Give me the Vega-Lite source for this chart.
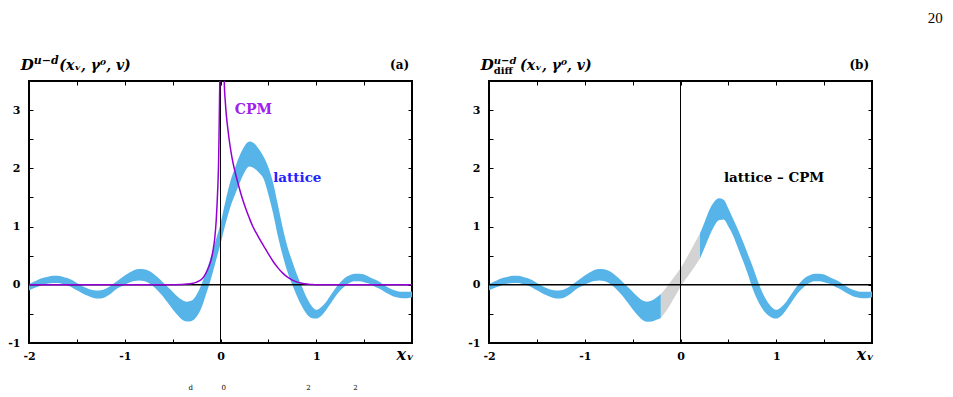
{
"$schema": "https://vega.github.io/schema/vega-lite/v6.json",
"background": "white",
"padding": {"left": 6, "top": 9, "right": 0, "bottom": 0},
"autosize": {"type": "pad"},
"spacing": 77,
"bounds": "flush",
"config": {
  "view": {"stroke": "black", "strokeWidth": 2},
  "axis": {"labelFont": "DejaVu Serif", "labelFontWeight": "bold", "labelFontSize": 11, "labelColor": "black", "tickColor": "black", "tickWidth": 1, "tickSize": -4, "domain": false, "grid": false, "title": null, "labelFlush": false},
  "axisX": {"labelPadding": 11},
  "axisY": {"labelPadding": 13},
  "text": {"font": "DejaVu Serif", "fontWeight": "bold"}
},
"datasets": {
  "bandA": [
    {"x":-2.0,"hi":0.01,"lo":-0.10},{"x":-1.95,"hi":0.05,"lo":-0.06},{"x":-1.9,"hi":0.09,"lo":-0.03},{"x":-1.85,"hi":0.12,"lo":0.0},{"x":-1.8,"hi":0.14,"lo":0.02},{"x":-1.75,"hi":0.155,"lo":0.03},{"x":-1.7,"hi":0.155,"lo":0.03},{"x":-1.65,"hi":0.14,"lo":0.015},{"x":-1.6,"hi":0.115,"lo":-0.01},{"x":-1.55,"hi":0.08,"lo":-0.045},{"x":-1.5,"hi":0.03,"lo":-0.095},{"x":-1.45,"hi":-0.015,"lo":-0.14},{"x":-1.4,"hi":-0.055,"lo":-0.18},{"x":-1.35,"hi":-0.085,"lo":-0.215},{"x":-1.3,"hi":-0.1,"lo":-0.235},{"x":-1.25,"hi":-0.095,"lo":-0.235},{"x":-1.2,"hi":-0.07,"lo":-0.21},{"x":-1.15,"hi":-0.02,"lo":-0.16},{"x":-1.1,"hi":0.04,"lo":-0.09},{"x":-1.05,"hi":0.1,"lo":-0.04},{"x":-1.0,"hi":0.16,"lo":0.0},{"x":-0.95,"hi":0.21,"lo":0.04},{"x":-0.9,"hi":0.255,"lo":0.065},{"x":-0.85,"hi":0.27,"lo":0.075},{"x":-0.8,"hi":0.265,"lo":0.065},{"x":-0.75,"hi":0.24,"lo":0.03},{"x":-0.7,"hi":0.19,"lo":-0.03},{"x":-0.65,"hi":0.12,"lo":-0.11},{"x":-0.6,"hi":0.04,"lo":-0.2},{"x":-0.55,"hi":-0.04,"lo":-0.31},{"x":-0.5,"hi":-0.12,"lo":-0.42},{"x":-0.45,"hi":-0.2,"lo":-0.52},{"x":-0.4,"hi":-0.26,"lo":-0.6},{"x":-0.35,"hi":-0.29,"lo":-0.63},{"x":-0.3,"hi":-0.27,"lo":-0.62},{"x":-0.25,"hi":-0.17,"lo":-0.55},{"x":-0.2,"hi":0.0,"lo":-0.4},{"x":-0.15,"hi":0.22,"lo":-0.16},{"x":-0.1,"hi":0.48,"lo":0.1},{"x":-0.05,"hi":0.76,"lo":0.4},{"x":0.0,"hi":1.05,"lo":0.7},{"x":0.05,"hi":1.42,"lo":1.03},{"x":0.1,"hi":1.76,"lo":1.32},{"x":0.15,"hi":2.0,"lo":1.54},{"x":0.2,"hi":2.22,"lo":1.75},{"x":0.25,"hi":2.38,"lo":1.93},{"x":0.3,"hi":2.46,"lo":2.03},{"x":0.35,"hi":2.43,"lo":2.0},{"x":0.4,"hi":2.33,"lo":1.93},{"x":0.45,"hi":2.2,"lo":1.82},{"x":0.5,"hi":2.02,"lo":1.55},{"x":0.55,"hi":1.75,"lo":1.22},{"x":0.6,"hi":1.37,"lo":0.83},{"x":0.65,"hi":0.98,"lo":0.5},{"x":0.7,"hi":0.65,"lo":0.22},{"x":0.75,"hi":0.4,"lo":0.0},{"x":0.8,"hi":0.17,"lo":-0.2},{"x":0.85,"hi":-0.03,"lo":-0.37},{"x":0.9,"hi":-0.22,"lo":-0.5},{"x":0.95,"hi":-0.36,"lo":-0.57},{"x":1.0,"hi":-0.43,"lo":-0.58},{"x":1.05,"hi":-0.385,"lo":-0.535},{"x":1.1,"hi":-0.3,"lo":-0.44},{"x":1.15,"hi":-0.18,"lo":-0.32},{"x":1.2,"hi":-0.06,"lo":-0.2},{"x":1.25,"hi":0.04,"lo":-0.1},{"x":1.3,"hi":0.12,"lo":-0.02},{"x":1.35,"hi":0.165,"lo":0.035},{"x":1.4,"hi":0.19,"lo":0.06},{"x":1.45,"hi":0.19,"lo":0.06},{"x":1.5,"hi":0.175,"lo":0.045},{"x":1.55,"hi":0.14,"lo":0.02},{"x":1.6,"hi":0.1,"lo":-0.02},{"x":1.65,"hi":0.06,"lo":-0.06},{"x":1.7,"hi":0.005,"lo":-0.105},{"x":1.75,"hi":-0.045,"lo":-0.155},{"x":1.8,"hi":-0.085,"lo":-0.195},{"x":1.85,"hi":-0.11,"lo":-0.22},{"x":1.9,"hi":-0.12,"lo":-0.23},{"x":1.95,"hi":-0.12,"lo":-0.23},{"x":2.0,"hi":-0.115,"lo":-0.215}
  ],
  "bandB": [
    {"s":"L","x":-2.0,"hi":0.01,"lo":-0.10},{"s":"L","x":-1.95,"hi":0.05,"lo":-0.06},{"s":"L","x":-1.9,"hi":0.09,"lo":-0.03},{"s":"L","x":-1.85,"hi":0.12,"lo":0.0},{"s":"L","x":-1.8,"hi":0.14,"lo":0.02},{"s":"L","x":-1.75,"hi":0.155,"lo":0.03},{"s":"L","x":-1.7,"hi":0.155,"lo":0.03},{"s":"L","x":-1.65,"hi":0.14,"lo":0.015},{"s":"L","x":-1.6,"hi":0.115,"lo":-0.01},{"s":"L","x":-1.55,"hi":0.08,"lo":-0.045},{"s":"L","x":-1.5,"hi":0.03,"lo":-0.095},{"s":"L","x":-1.45,"hi":-0.015,"lo":-0.14},{"s":"L","x":-1.4,"hi":-0.055,"lo":-0.18},{"s":"L","x":-1.35,"hi":-0.085,"lo":-0.215},{"s":"L","x":-1.3,"hi":-0.1,"lo":-0.235},{"s":"L","x":-1.25,"hi":-0.095,"lo":-0.235},{"s":"L","x":-1.2,"hi":-0.07,"lo":-0.21},{"s":"L","x":-1.15,"hi":-0.02,"lo":-0.16},{"s":"L","x":-1.1,"hi":0.04,"lo":-0.09},{"s":"L","x":-1.05,"hi":0.1,"lo":-0.04},{"s":"L","x":-1.0,"hi":0.16,"lo":0.0},{"s":"L","x":-0.95,"hi":0.21,"lo":0.04},{"s":"L","x":-0.9,"hi":0.255,"lo":0.065},{"s":"L","x":-0.85,"hi":0.27,"lo":0.075},{"s":"L","x":-0.8,"hi":0.265,"lo":0.065},{"s":"L","x":-0.75,"hi":0.24,"lo":0.03},{"s":"L","x":-0.7,"hi":0.19,"lo":-0.03},{"s":"L","x":-0.65,"hi":0.12,"lo":-0.11},{"s":"L","x":-0.6,"hi":0.04,"lo":-0.2},{"s":"L","x":-0.55,"hi":-0.04,"lo":-0.31},{"s":"L","x":-0.5,"hi":-0.12,"lo":-0.42},{"s":"L","x":-0.45,"hi":-0.2,"lo":-0.52},{"s":"L","x":-0.4,"hi":-0.265,"lo":-0.6},{"s":"L","x":-0.35,"hi":-0.29,"lo":-0.635},{"s":"L","x":-0.3,"hi":-0.27,"lo":-0.63},{"s":"L","x":-0.25,"hi":-0.22,"lo":-0.6},{"s":"L","x":-0.205,"hi":-0.16,"lo":-0.57},
    {"s":"G","x":-0.205,"hi":-0.16,"lo":-0.57},{"s":"G","x":-0.15,"hi":-0.05,"lo":-0.45},{"s":"G","x":-0.1,"hi":0.06,"lo":-0.32},{"s":"G","x":-0.05,"hi":0.17,"lo":-0.18},{"s":"G","x":0.0,"hi":0.28,"lo":-0.04},{"s":"G","x":0.05,"hi":0.42,"lo":0.09},{"s":"G","x":0.1,"hi":0.57,"lo":0.2},{"s":"G","x":0.15,"hi":0.72,"lo":0.32},{"s":"G","x":0.204,"hi":0.885,"lo":0.45},
    {"s":"R","x":0.204,"hi":0.885,"lo":0.45},{"s":"R","x":0.25,"hi":1.07,"lo":0.63},{"s":"R","x":0.3,"hi":1.28,"lo":0.83},{"s":"R","x":0.35,"hi":1.42,"lo":1.0},{"s":"R","x":0.4,"hi":1.485,"lo":1.11},{"s":"R","x":0.45,"hi":1.46,"lo":1.12},{"s":"R","x":0.5,"hi":1.31,"lo":1.0},{"s":"R","x":0.55,"hi":1.13,"lo":0.84},{"s":"R","x":0.6,"hi":0.95,"lo":0.63},{"s":"R","x":0.65,"hi":0.75,"lo":0.42},{"s":"R","x":0.7,"hi":0.54,"lo":0.2},{"s":"R","x":0.75,"hi":0.33,"lo":-0.05},{"s":"R","x":0.8,"hi":0.1,"lo":-0.25},{"s":"R","x":0.85,"hi":-0.11,"lo":-0.4},{"s":"R","x":0.9,"hi":-0.27,"lo":-0.5},{"s":"R","x":0.95,"hi":-0.38,"lo":-0.56},{"s":"R","x":1.0,"hi":-0.43,"lo":-0.58},{"s":"R","x":1.05,"hi":-0.385,"lo":-0.535},{"s":"R","x":1.1,"hi":-0.3,"lo":-0.44},{"s":"R","x":1.15,"hi":-0.18,"lo":-0.32},{"s":"R","x":1.2,"hi":-0.06,"lo":-0.2},{"s":"R","x":1.25,"hi":0.04,"lo":-0.1},{"s":"R","x":1.3,"hi":0.12,"lo":-0.02},{"s":"R","x":1.35,"hi":0.165,"lo":0.035},{"s":"R","x":1.4,"hi":0.19,"lo":0.06},{"s":"R","x":1.45,"hi":0.19,"lo":0.06},{"s":"R","x":1.5,"hi":0.175,"lo":0.045},{"s":"R","x":1.55,"hi":0.14,"lo":0.02},{"s":"R","x":1.6,"hi":0.1,"lo":-0.02},{"s":"R","x":1.65,"hi":0.06,"lo":-0.06},{"s":"R","x":1.7,"hi":0.005,"lo":-0.105},{"s":"R","x":1.75,"hi":-0.045,"lo":-0.155},{"s":"R","x":1.8,"hi":-0.085,"lo":-0.195},{"s":"R","x":1.85,"hi":-0.11,"lo":-0.22},{"s":"R","x":1.9,"hi":-0.12,"lo":-0.23},{"s":"R","x":1.95,"hi":-0.12,"lo":-0.23},{"s":"R","x":2.0,"hi":-0.115,"lo":-0.215}
  ],
  "cpmA": [
    {"x":-2.0,"y":0},{"x":-0.6,"y":0},{"x":-0.5,"y":0.002},{"x":-0.4,"y":0.006},{"x":-0.35,"y":0.012},{"x":-0.3,"y":0.022},{"x":-0.25,"y":0.045},{"x":-0.2,"y":0.09},{"x":-0.17,"y":0.15},{"x":-0.13,"y":0.28},{"x":-0.1,"y":0.42},{"x":-0.08,"y":0.57},{"x":-0.06,"y":0.8},{"x":-0.045,"y":1.1},{"x":-0.03,"y":1.6},{"x":-0.02,"y":2.1},{"x":-0.015,"y":2.6},{"x":-0.01,"y":3.2},{"x":-0.006,"y":3.8},{"x":-0.004,"y":4.5},
    {"x":0.03,"y":4.5},{"x":0.04,"y":3.45},{"x":0.05,"y":3.15},{"x":0.06,"y":2.93},{"x":0.075,"y":2.7},{"x":0.09,"y":2.5},{"x":0.11,"y":2.28},{"x":0.13,"y":2.1},{"x":0.155,"y":1.92},{"x":0.18,"y":1.76},{"x":0.21,"y":1.58},{"x":0.24,"y":1.42},{"x":0.27,"y":1.28},{"x":0.3,"y":1.15},{"x":0.335,"y":1.01},{"x":0.37,"y":0.9},{"x":0.4,"y":0.81},{"x":0.45,"y":0.67},{"x":0.5,"y":0.53},{"x":0.55,"y":0.4},{"x":0.6,"y":0.29},{"x":0.65,"y":0.2},{"x":0.7,"y":0.13},{"x":0.75,"y":0.08},{"x":0.8,"y":0.046},{"x":0.85,"y":0.025},{"x":0.9,"y":0.012},{"x":0.95,"y":0.005},{"x":1.0,"y":0.0},{"x":2.0,"y":0.0}
  ]
},
"hconcat": [
  {
    "width": 383, "height": 262,
    "resolve": {"axis": {"x": "independent", "y": "independent"}},
    "layer": [
      {"data": {"name": "bandA"}, "mark": {"type": "area", "interpolate": "monotone", "color": "#56B4E9"},
       "encoding": {
         "x": {"field": "x", "type": "quantitative", "scale": {"domain": [-2, 2], "nice": false, "zero": false},
               "axis": {"orient": "bottom", "values": [-2,-1.5,-1,-0.5,0,0.5,1,1.5,2], "labelExpr": "datum.value % 1 === 0 && datum.value < 2 ? (datum.value < 0 ? '-' + abs(datum.value) : '' + datum.value) : ''"}},
         "y": {"field": "hi", "type": "quantitative", "stack": null, "scale": {"domain": [-1, 3.5], "nice": false, "zero": false},
               "axis": {"orient": "left", "values": [-1,-0.5,0,0.5,1,1.5,2,2.5,3], "labelExpr": "datum.value % 1 === 0 ? (datum.value < 0 ? '-' + abs(datum.value) : '' + datum.value) : ''"}},
         "y2": {"field": "lo"}}},
      {"data": {"values": [{}]}, "mark": {"type": "rule", "color": "black", "strokeWidth": 1.5},
       "encoding": {"y": {"datum": 0, "type": "quantitative", "scale": {"domain": [-1, 3.5], "nice": false, "zero": false}, "axis": null}}},
      {"data": {"values": [{}]}, "mark": {"type": "rule", "color": "black", "strokeWidth": 1},
       "encoding": {"x": {"datum": 0, "type": "quantitative", "scale": {"domain": [-2, 2], "nice": false, "zero": false}, "axis": null}}},
      {"data": {"name": "cpmA"}, "mark": {"type": "line", "interpolate": "monotone", "color": "#9400D3", "strokeWidth": 1.5, "clip": true},
       "encoding": {
         "x": {"field": "x", "type": "quantitative", "scale": {"domain": [-2, 2], "nice": false, "zero": false}, "axis": null},
         "y": {"field": "y", "type": "quantitative", "scale": {"domain": [-1, 3.5], "nice": false, "zero": false}, "axis": null}}},
      {"data": {"values": [{}]}, "mark": {"type": "text", "align": "left", "baseline": "middle", "fontSize": 14, "color": "#A020F0"},
       "encoding": {"x": {"datum": 0.15, "type": "quantitative", "scale": {"domain": [-2, 2], "nice": false, "zero": false}, "axis": null},
                    "y": {"datum": 3.0, "type": "quantitative", "scale": {"domain": [-1, 3.5], "nice": false, "zero": false}, "axis": null},
                    "text": {"value": "CPM"}}},
      {"data": {"values": [{}]}, "mark": {"type": "text", "align": "left", "baseline": "middle", "fontSize": 13.5, "color": "#2222FF"},
       "encoding": {"x": {"datum": 0.55, "type": "quantitative", "scale": {"domain": [-2, 2], "nice": false, "zero": false}, "axis": null},
                    "y": {"datum": 1.83, "type": "quantitative", "scale": {"domain": [-1, 3.5], "nice": false, "zero": false}, "axis": null},
                    "text": {"value": "lattice"}}},
      {"data": {"values": [{}]}, "mark": {"type": "text", "align": "right", "baseline": "middle", "fontSize": 12, "color": "black"},
       "encoding": {"x": {"datum": 1.97, "type": "quantitative", "scale": {"domain": [-2, 2], "nice": false, "zero": false}, "axis": null},
                    "y": {"datum": 3.78, "type": "quantitative", "scale": {"domain": [-1, 3.5], "nice": false, "zero": false}, "axis": null},
                    "text": {"value": "(a)"}}},
      {"data": {"values": [{}]}, "mark": {"type": "text", "align": "left", "baseline": "alphabetic", "fontSize": 15, "fontStyle": "italic", "color": "black"},
       "encoding": {"x": {"datum": -2.086, "type": "quantitative", "scale": {"domain": [-2, 2], "nice": false, "zero": false}, "axis": null},
                    "y": {"datum": 3.684, "type": "quantitative", "scale": {"domain": [-1, 3.5], "nice": false, "zero": false}, "axis": null},
                    "text": {"value": "D"}}},
      {"data": {"values": [{}]}, "mark": {"type": "text", "align": "left", "baseline": "alphabetic", "fontSize": 11, "fontStyle": "italic", "color": "black", "dx": 13, "dy": -6},
       "encoding": {"x": {"datum": -2.086, "type": "quantitative", "scale": {"domain": [-2, 2], "nice": false, "zero": false}, "axis": null},
                    "y": {"datum": 3.684, "type": "quantitative", "scale": {"domain": [-1, 3.5], "nice": false, "zero": false}, "axis": null},
                    "text": {"value": "u−d"}}},
      {"data": {"values": [{}]}, "mark": {"type": "text", "align": "left", "baseline": "alphabetic", "fontSize": 14, "fontStyle": "italic", "color": "black", "dx": 38.5},
       "encoding": {"x": {"datum": -2.086, "type": "quantitative", "scale": {"domain": [-2, 2], "nice": false, "zero": false}, "axis": null},
                    "y": {"datum": 3.684, "type": "quantitative", "scale": {"domain": [-1, 3.5], "nice": false, "zero": false}, "axis": null},
                    "text": {"value": "(xᵥ, γ⁰, v)"}}},
      {"data": {"values": [{}]}, "mark": {"type": "text", "align": "center", "baseline": "middle", "fontSize": 16, "fontStyle": "italic", "color": "black"},
       "encoding": {"x": {"datum": 1.93, "type": "quantitative", "scale": {"domain": [-2, 2], "nice": false, "zero": false}, "axis": null},
                    "y": {"datum": -1.2, "type": "quantitative", "scale": {"domain": [-1, 3.5], "nice": false, "zero": false}, "axis": null},
                    "text": {"value": "xᵥ"}}},
      {"data": {"values": [{"x": -0.31, "t": "d"}, {"x": 0.035, "t": "0"}, {"x": 0.92, "t": "2"}, {"x": 1.41, "t": "2"}]},
       "mark": {"type": "text", "align": "center", "baseline": "middle", "fontSize": 7, "fontWeight": "normal", "color": "black"},
       "encoding": {"x": {"field": "x", "type": "quantitative", "scale": {"domain": [-2, 2], "nice": false, "zero": false}, "axis": null},
                    "y": {"datum": -1.78, "type": "quantitative", "scale": {"domain": [-1, 3.5], "nice": false, "zero": false}, "axis": null},
                    "text": {"field": "t"}}},
      {"data": {"name": "bandA"}, "mark": {"type": "point", "opacity": 0},
       "encoding": {
         "x": {"field": "x", "type": "quantitative", "scale": {"domain": [-2, 2], "nice": false, "zero": false},
               "axis": {"orient": "top", "values": [-2,-1.5,-1,-0.5,0,0.5,1,1.5,2], "labels": false}},
         "y": {"field": "hi", "type": "quantitative", "scale": {"domain": [-1, 3.5], "nice": false, "zero": false},
               "axis": {"orient": "right", "values": [-1,-0.5,0,0.5,1,1.5,2,2.5,3], "labels": false}}}}
    ]
  },
  {
    "width": 383, "height": 262,
    "resolve": {"axis": {"x": "independent", "y": "independent"}},
    "layer": [
      {"data": {"name": "bandB"}, "mark": {"type": "area", "interpolate": "monotone"},
       "encoding": {
         "x": {"field": "x", "type": "quantitative", "scale": {"domain": [-2, 2], "nice": false, "zero": false},
               "axis": {"orient": "bottom", "values": [-2,-1.5,-1,-0.5,0,0.5,1,1.5,2], "labelExpr": "datum.value % 1 === 0 && datum.value < 2 ? (datum.value < 0 ? '-' + abs(datum.value) : '' + datum.value) : ''"}},
         "y": {"field": "hi", "type": "quantitative", "stack": null, "scale": {"domain": [-1, 3.5], "nice": false, "zero": false},
               "axis": {"orient": "left", "values": [-1,-0.5,0,0.5,1,1.5,2,2.5,3], "labelExpr": "datum.value % 1 === 0 ? (datum.value < 0 ? '-' + abs(datum.value) : '' + datum.value) : ''"}},
         "y2": {"field": "lo"},
         "color": {"field": "s", "type": "nominal", "scale": {"domain": ["L", "G", "R"], "range": ["#56B4E9", "#D3D3D3", "#56B4E9"]}, "legend": null}}},
      {"data": {"values": [{}]}, "mark": {"type": "rule", "color": "black", "strokeWidth": 1.5},
       "encoding": {"y": {"datum": 0, "type": "quantitative", "scale": {"domain": [-1, 3.5], "nice": false, "zero": false}, "axis": null}}},
      {"data": {"values": [{}]}, "mark": {"type": "rule", "color": "black", "strokeWidth": 1},
       "encoding": {"x": {"datum": 0, "type": "quantitative", "scale": {"domain": [-2, 2], "nice": false, "zero": false}, "axis": null}}},
      {"data": {"values": [{}]}, "mark": {"type": "text", "align": "left", "baseline": "middle", "fontSize": 13.5, "color": "black"},
       "encoding": {"x": {"datum": 0.454, "type": "quantitative", "scale": {"domain": [-2, 2], "nice": false, "zero": false}, "axis": null},
                    "y": {"datum": 1.83, "type": "quantitative", "scale": {"domain": [-1, 3.5], "nice": false, "zero": false}, "axis": null},
                    "text": {"value": "lattice – CPM"}}},
      {"data": {"values": [{}]}, "mark": {"type": "text", "align": "right", "baseline": "middle", "fontSize": 12, "color": "black"},
       "encoding": {"x": {"datum": 1.97, "type": "quantitative", "scale": {"domain": [-2, 2], "nice": false, "zero": false}, "axis": null},
                    "y": {"datum": 3.78, "type": "quantitative", "scale": {"domain": [-1, 3.5], "nice": false, "zero": false}, "axis": null},
                    "text": {"value": "(b)"}}},
      {"data": {"values": [{}]}, "mark": {"type": "text", "align": "left", "baseline": "alphabetic", "fontSize": 15, "fontStyle": "italic", "color": "black"},
       "encoding": {"x": {"datum": -2.086, "type": "quantitative", "scale": {"domain": [-2, 2], "nice": false, "zero": false}, "axis": null},
                    "y": {"datum": 3.684, "type": "quantitative", "scale": {"domain": [-1, 3.5], "nice": false, "zero": false}, "axis": null},
                    "text": {"value": "D"}}},
      {"data": {"values": [{}]}, "mark": {"type": "text", "align": "left", "baseline": "alphabetic", "fontSize": 10, "fontStyle": "italic", "color": "black", "dx": 13, "dy": -6},
       "encoding": {"x": {"datum": -2.086, "type": "quantitative", "scale": {"domain": [-2, 2], "nice": false, "zero": false}, "axis": null},
                    "y": {"datum": 3.684, "type": "quantitative", "scale": {"domain": [-1, 3.5], "nice": false, "zero": false}, "axis": null},
                    "text": {"value": "u−d"}}},
      {"data": {"values": [{}]}, "mark": {"type": "text", "align": "left", "baseline": "alphabetic", "fontSize": 10, "color": "black", "dx": 13, "dy": 4},
       "encoding": {"x": {"datum": -2.086, "type": "quantitative", "scale": {"domain": [-2, 2], "nice": false, "zero": false}, "axis": null},
                    "y": {"datum": 3.684, "type": "quantitative", "scale": {"domain": [-1, 3.5], "nice": false, "zero": false}, "axis": null},
                    "text": {"value": "diff"}}},
      {"data": {"values": [{}]}, "mark": {"type": "text", "align": "left", "baseline": "alphabetic", "fontSize": 14, "fontStyle": "italic", "color": "black", "dx": 39.3},
       "encoding": {"x": {"datum": -2.086, "type": "quantitative", "scale": {"domain": [-2, 2], "nice": false, "zero": false}, "axis": null},
                    "y": {"datum": 3.684, "type": "quantitative", "scale": {"domain": [-1, 3.5], "nice": false, "zero": false}, "axis": null},
                    "text": {"value": "(xᵥ, γ⁰, v)"}}},
      {"data": {"values": [{}]}, "mark": {"type": "text", "align": "center", "baseline": "middle", "fontSize": 16, "fontStyle": "italic", "color": "black"},
       "encoding": {"x": {"datum": 1.93, "type": "quantitative", "scale": {"domain": [-2, 2], "nice": false, "zero": false}, "axis": null},
                    "y": {"datum": -1.2, "type": "quantitative", "scale": {"domain": [-1, 3.5], "nice": false, "zero": false}, "axis": null},
                    "text": {"value": "xᵥ"}}},
      {"data": {"values": [{}]}, "mark": {"type": "text", "align": "center", "baseline": "middle", "fontSize": 15, "font": "Liberation Serif", "fontWeight": "normal", "color": "black"},
       "encoding": {"x": {"datum": 2.66, "type": "quantitative", "scale": {"domain": [-2, 2], "nice": false, "zero": false}, "axis": null},
                    "y": {"datum": 4.585, "type": "quantitative", "scale": {"domain": [-1, 3.5], "nice": false, "zero": false}, "axis": null},
                    "text": {"value": "20"}}},
      {"data": {"name": "bandA"}, "mark": {"type": "point", "opacity": 0},
       "encoding": {
         "x": {"field": "x", "type": "quantitative", "scale": {"domain": [-2, 2], "nice": false, "zero": false},
               "axis": {"orient": "top", "values": [-2,-1.5,-1,-0.5,0,0.5,1,1.5,2], "labels": false}},
         "y": {"field": "hi", "type": "quantitative", "scale": {"domain": [-1, 3.5], "nice": false, "zero": false},
               "axis": {"orient": "right", "values": [-1,-0.5,0,0.5,1,1.5,2,2.5,3], "labels": false}}}}
    ]
  }
]
}
